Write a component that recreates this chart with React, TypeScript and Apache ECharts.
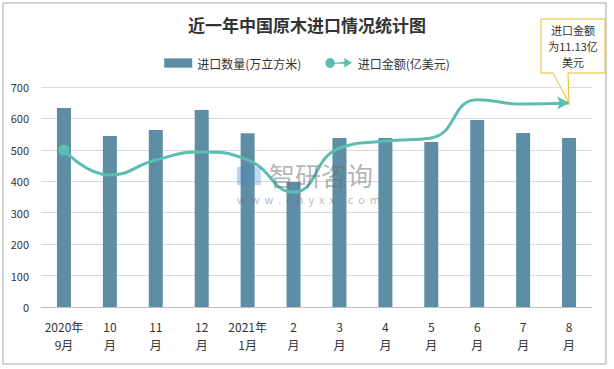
import React, { useEffect, useRef } from "react";
import * as echarts from "echarts";

const categories = ["2020年\n9月", "10\n月", "11\n月", "12\n月", "2021年\n1月", "2\n月", "3\n月", "4\n月", "5\n月", "6\n月", "7\n月", "8\n月"];
const volume = [633, 544, 563, 627, 553, 398, 538, 538, 525, 595, 554, 538];
const amount = [8.57, 7.2, 8.02, 8.45, 8.02, 6.27, 8.67, 9.05, 9.22, 11.3, 11.07, 11.13];
const yTicks = [0, 100, 200, 300, 400, 500, 600, 700];

const FONT = "'Noto Sans CJK SC', 'Noto Sans', sans-serif";
const BAR = "#5d8ea6";
const LINE = "#5cbdb1";

export default function App() {
  const ref = useRef<HTMLDivElement>(null);
  useEffect(() => {
    const chart = echarts.init(ref.current!, null, { renderer: "svg" });
    const lineData = amount.map((v, i) => {
      if (i === 0) return { value: v, symbol: "circle", symbolSize: 11 };
      if (i === amount.length - 1) return { value: v, symbol: "arrow", symbolSize: [10, 12], symbolRotate: -90 };
      return { value: v, symbol: "none" };
    });
    chart.setOption({
      animation: false,
      backgroundColor: "#fff",
      title: {
        text: "近一年中国原木进口情况统计图",
        left: "center",
        top: 11,
        textStyle: { fontFamily: FONT, fontSize: 17, fontWeight: "bold", color: "#333" },
      },
      legend: {
        top: 52,
        left: "center",
        itemGap: 24,
        itemWidth: 28,
        itemHeight: 10,
        textStyle: { fontFamily: FONT, fontSize: 12, color: "#333" },
        data: [
          { name: "进口数量(万立方米)", icon: "path://M0,1 L24,1 L24,9 L0,9 Z", itemStyle: { color: BAR } },
          {
            name: "进口金额(亿美元)",
            icon: "path://M0,5 A5,5 0 1 1 10,5 L20,4 L20,0 L28,5 L20,10 L20,6 L10,6 A5,5 0 1 1 0,5 Z",
            itemStyle: { color: LINE },
          },
        ],
      },
      grid: { left: 41, right: 22, top: 87, bottom: 62, containLabel: false },
      xAxis: {
        type: "category",
        data: categories,
        axisLine: { lineStyle: { color: "#bfbfbf" } },
        axisTick: { show: false },
        axisLabel: { fontFamily: FONT, fontSize: 12, color: "#333", lineHeight: 18, margin: 10, interval: 0 },
      },
      yAxis: [
        {
          type: "value",
          min: yTicks[0],
          max: yTicks[yTicks.length - 1],
          interval: 100,
          axisLine: { show: false },
          axisTick: { show: false },
          splitLine: { lineStyle: { color: "#d9d9d9" } },
          axisLabel: { fontFamily: FONT, fontSize: 11, color: "#333", margin: 12 },
        },
        { type: "value", min: 0, max: 12, show: false, splitLine: { show: false } },
      ],
      series: [
        {
          name: "进口数量(万立方米)",
          type: "bar",
          data: volume,
          barWidth: 14,
          itemStyle: { color: BAR },
        },
        {
          name: "进口金额(亿美元)",
          type: "line",
          yAxisIndex: 1,
          smooth: 0.5,
          data: lineData,
          lineStyle: { color: LINE, width: 3 },
          itemStyle: { color: LINE },
        },
      ],
      graphic: [
        {
          type: "rect",
          shape: { x: 3, y: 3, width: 603, height: 361 },
          style: { fill: "none", stroke: "#a6a6a6", lineWidth: 1 },
          silent: true,
        },
        {
          type: "group",
          left: 237,
          top: 161,
          silent: true,
          z: 60,
          children: [
            { type: "rect", z: 60, shape: { x: 0, y: 6, width: 10, height: 18 }, style: { fill: "rgba(80,130,190,0.35)" } },
            { type: "rect", z: 60, shape: { x: 12, y: 6, width: 12, height: 18 }, style: { fill: "rgba(80,150,210,0.35)" } },
            {
              type: "text",
              z: 60,
              x: 32,
              y: 0,
              style: { text: "智研咨询", font: `26px ${FONT}`, fill: "rgba(110,110,110,0.5)" },
            },
            {
              type: "text",
              z: 60,
              x: 0,
              y: 32,
              style: { text: "w  w  w  .  c  h  y  x  x  .  c  o  m", font: `11px ${FONT}`, fill: "rgba(110,110,110,0.5)" },
            },
          ],
        },
        {
          type: "polygon",
          shape: { points: [[541, 19], [605, 19], [605, 73], [568, 73], [569, 103], [553, 73], [541, 73]] },
          style: { fill: "#fff", stroke: "#f0b823", lineWidth: 1 },
          z: 100,
        },
        {
          type: "text",
          x: 573,
          y: 22,
          z: 101,
          style: {
            text: "进口金额\n为11.13亿\n美元",
            font: `11px ${FONT}`,
            fill: "#333",
            align: "center",
            lineHeight: 16,
          },
        },
      ],
    });
    return () => chart.dispose();
  }, []);
  return <div ref={ref} style={{ position: "fixed", left: 0, top: 0, width: 614, height: 369 }} />;
}
